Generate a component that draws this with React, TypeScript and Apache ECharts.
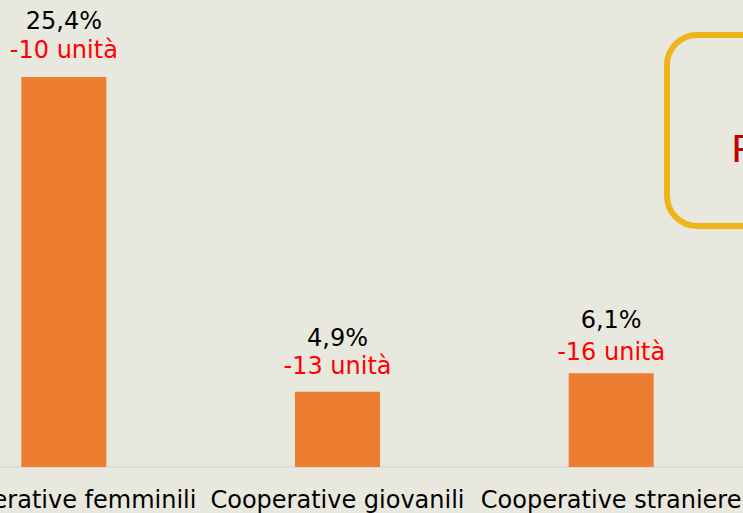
import React, { useEffect, useRef } from "react";
import * as echarts from "echarts";

const categories = ["Cooperative femminili", "Cooperative giovanili", "Cooperative straniere"];
const shares = [25.4, 4.9, 6.1];
const unitChanges = [-10, -13, -16];
const boxText = "P";

// label placement tweaks (style, not data)
const labelDistances = [13, 11.5, 7.5];
const topLineHeights = [30, 28.6, 35.4];

const FONT = "DejaVu Sans, Verdana, sans-serif";
const SHIFT = 73;
const CHART_W = 821;

export default function App() {
  const ref = useRef<HTMLDivElement>(null);
  useEffect(() => {
    if (!ref.current) return;
    const chart = echarts.init(ref.current, undefined, { renderer: "svg" });
    chart.setOption({
      animation: false,
      backgroundColor: "#E9E8DE",
      grid: { left: 0, right: 0, top: 6.5, bottom: 46 },
      xAxis: {
        type: "category",
        data: categories,
        axisLine: { show: true, lineStyle: { color: "#D9D9D9", width: 1.5 } },
        axisTick: { show: false },
        axisLabel: {
          interval: 0,
          color: "#000",
          fontFamily: FONT,
          fontSize: 24,
          margin: 21,
        },
      },
      yAxis: {
        type: "value",
        min: 0,
        max: 30,
        show: false,
        splitLine: { show: false },
      },
      series: [
        {
          type: "bar",
          data: shares.map((v, i) => ({
            value: v,
            label: {
              distance: labelDistances[i],
              rich: {
                a: { color: "#000", fontFamily: FONT, fontSize: 24, lineHeight: topLineHeights[i] },
                b: { color: "#FF0000", fontFamily: FONT, fontSize: 24, lineHeight: 28 },
              },
            },
          })),
          barWidth: 85,
          itemStyle: { color: "#ED7D31" },
          label: {
            show: true,
            position: "top",
            distance: 12,
            formatter: (p: any) =>
              `{a|${String(shares[p.dataIndex]).replace(".", ",")}%}\n{b|${unitChanges[p.dataIndex]} unità}`,
            rich: {
              a: { color: "#000", fontFamily: FONT, fontSize: 24, lineHeight: 28 },
              b: { color: "#FF0000", fontFamily: FONT, fontSize: 24, lineHeight: 28 },
            },
          },
        },
      ],
      graphic: [
        {
          type: "rect",
          shape: { x: 667 + SHIFT, y: 35, width: 200, height: 191, r: 30 },
          style: { fill: "transparent", stroke: "#F0B41B", lineWidth: 6 },
        },
        {
          type: "text",
          x: 731 + SHIFT,
          y: 149,
          style: {
            text: boxText,
            fill: "#C00000",
            font: `38px ${FONT}`,
            verticalAlign: "middle",
          },
        },
      ],
    });
    return () => chart.dispose();
  }, []);
  return (
    <div style={{ position: "fixed", left: 0, top: 0, width: 743, height: 513, overflow: "hidden", background: "#E9E8DE" }}>
      <div ref={ref} style={{ position: "absolute", left: -SHIFT, top: 0, width: CHART_W, height: 513 }} />
    </div>
  );
}
